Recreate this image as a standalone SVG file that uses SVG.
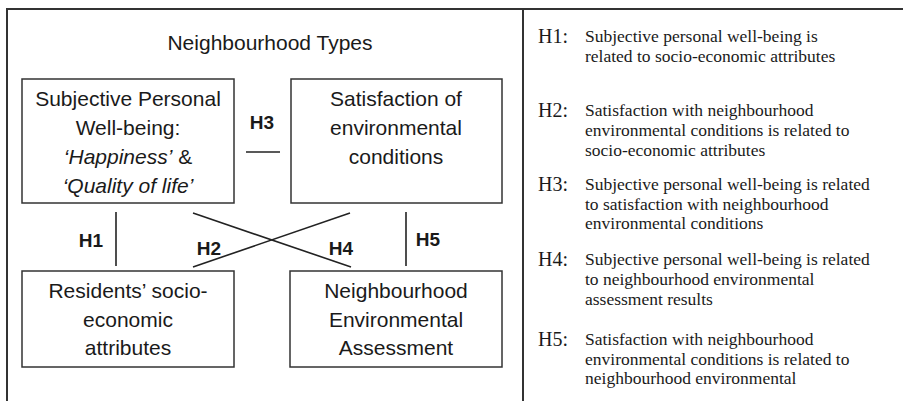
<svg xmlns="http://www.w3.org/2000/svg" width="903" height="401" viewBox="0 0 903 401">
<style>
.frame{stroke:#333;stroke-width:2;fill:none}
.box{fill:#fff;stroke:#333;stroke-width:1.5}
.lbl{font-family:"Liberation Sans",Arial,sans-serif;font-size:21px;fill:#1a1a1a;text-anchor:middle}
.it{font-style:italic}
.h{font-family:"Liberation Sans",Arial,sans-serif;font-size:19px;font-weight:bold;fill:#1a1a1a;text-anchor:middle}
.conn{stroke:#222;stroke-width:1.6;fill:none}
.hk{font-family:"Liberation Serif","Times New Roman",serif;font-size:20px;fill:#1a1a1a}
.hb{font-family:"Liberation Serif","Times New Roman",serif;font-size:17.5px;fill:#1a1a1a}
</style>
<rect width="903" height="401" fill="#fff"/>
<g id="frame">
<path class="frame" d="M7,401 V9 H903 M523,9 V401"/>
</g>
<text class="lbl" x="270" y="50">Neighbourhood Types</text>
<g id="connectors">
<line class="conn" x1="246" y1="152" x2="280" y2="152"/>
<line class="conn" x1="116" y1="212" x2="116" y2="266"/>
<line class="conn" x1="406" y1="212" x2="406" y2="266"/>
<line class="conn" x1="193" y1="213" x2="351" y2="267"/>
<line class="conn" x1="350" y1="213" x2="193" y2="267"/>
<text class="h" x="262" y="129">H3</text>
<text class="h" x="91" y="247">H1</text>
<text class="h" x="428" y="246">H5</text>
<text class="h" x="209" y="255">H2</text>
<text class="h" x="341" y="255">H4</text>
</g>
<g id="node-wellbeing">
<rect class="box" x="22" y="79" width="212" height="124"/>
<text class="lbl" x="128" y="106">Subjective Personal</text>
<text class="lbl" x="128" y="135">Well-being:</text>
<text class="lbl" x="128" y="164"><tspan class="it">‘Happiness’</tspan> &amp;</text>
<text class="lbl it" x="128" y="193">‘Quality of life’</text>
</g>
<g id="node-satisfaction">
<rect class="box" x="291" y="79" width="211" height="124"/>
<text class="lbl" x="396" y="106">Satisfaction of</text>
<text class="lbl" x="396" y="135">environmental</text>
<text class="lbl" x="396" y="164">conditions</text>
</g>
<g id="node-residents">
<rect class="box" x="22" y="271" width="212" height="96"/>
<text class="lbl" x="128" y="298">Residents’ socio-</text>
<text class="lbl" x="128" y="327">economic</text>
<text class="lbl" x="128" y="355">attributes</text>
</g>
<g id="node-assessment">
<rect class="box" x="290" y="271" width="212" height="96"/>
<text class="lbl" x="396" y="298">Neighbourhood</text>
<text class="lbl" x="396" y="327">Environmental</text>
<text class="lbl" x="396" y="355">Assessment</text>
</g>
<g id="hypotheses">
<text class="hk" x="538" y="43">H1:</text>
<text class="hb" x="585" y="42">Subjective personal well-being is</text>
<text class="hb" x="585" y="62">related to socio-economic attributes</text>
<text class="hk" x="538" y="117">H2:</text>
<text class="hb" x="585" y="116">Satisfaction with neighbourhood</text>
<text class="hb" x="585" y="136">environmental conditions is related to</text>
<text class="hb" x="585" y="156">socio-economic attributes</text>
<text class="hk" x="538" y="191">H3:</text>
<text class="hb" x="585" y="190">Subjective personal well-being is related</text>
<text class="hb" x="585" y="210">to satisfaction with neighbourhood</text>
<text class="hb" x="585" y="229">environmental conditions</text>
<text class="hk" x="538" y="266">H4:</text>
<text class="hb" x="585" y="265">Subjective personal well-being is related</text>
<text class="hb" x="585" y="285">to neighbourhood environmental</text>
<text class="hb" x="585" y="305">assessment results</text>
<text class="hk" x="538" y="346">H5:</text>
<text class="hb" x="585" y="345">Satisfaction with neighbourhood</text>
<text class="hb" x="585" y="365">environmental conditions is related to</text>
<text class="hb" x="585" y="384">neighbourhood environmental</text>
</g>
</svg>
